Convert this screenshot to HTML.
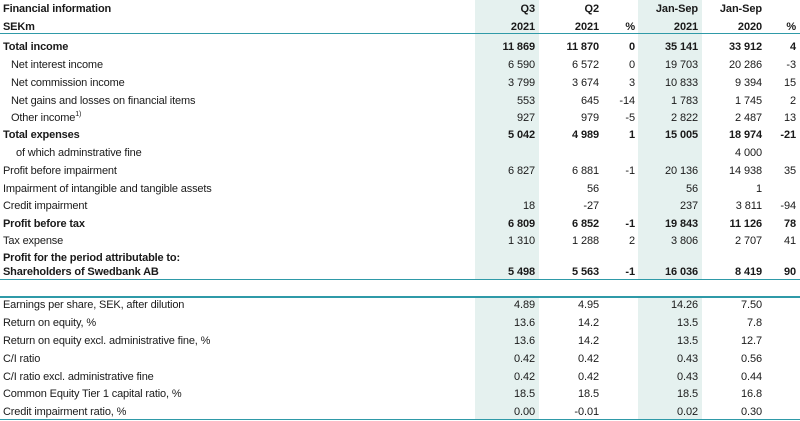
<!DOCTYPE html>
<html><head><meta charset="utf-8"><style>
body{margin:0;width:800px;height:421px;background:#fff;position:relative;overflow:hidden;font-family:"Liberation Sans",Arial,sans-serif;font-size:11px;color:#1a1a1a}
.sh{position:absolute;background:#e5f1ef}
.ln{position:absolute;left:0;width:800px;background:#2f9aa8}
.t{position:absolute;white-space:nowrap;line-height:12px;letter-spacing:-0.15px}
.r{position:absolute;white-space:nowrap;line-height:12px;text-align:right;width:80px;letter-spacing:-0.1px}
.b{font-weight:bold}
sup{font-size:7px;line-height:0;position:relative;top:3px;vertical-align:top}
</style></head><body>
<div class="sh" style="left:475px;top:0;width:64px;height:280px"></div>
<div class="sh" style="left:638px;top:0;width:64px;height:280px"></div>
<div class="sh" style="left:475px;top:298px;width:64px;height:122px"></div>
<div class="sh" style="left:638px;top:298px;width:64px;height:122px"></div>
<div class="ln" style="top:33px;height:1px"></div>
<div class="ln" style="top:279px;height:1px"></div>
<div class="ln" style="top:296px;height:2px"></div>
<div class="ln" style="top:419px;height:1px"></div>
<div id="c"></div>
<script>
var rows=[
[3,"Financial information",1,0,["Q3","Q2","","Jan-Sep","Jan-Sep",""],1],
[21,"SEKm",1,0,["2021","2021","%","2021","2020","%"],1],
[41,"Total income",1,0,["11 869","11 870","0","35 141","33 912","4"],1],
[59,"Net interest income",0,11,["6 590","6 572","0","19 703","20 286","-3"],0],
[77,"Net commission income",0,11,["3 799","3 674","3","10 833","9 394","15"],0],
[95,"Net gains and losses on financial items",0,11,["553","645","-14","1 783","1 745","2"],0],
[112,"Other income<sup>1)</sup>",0,11,["927","979","-5","2 822","2 487","13"],0],
[129,"Total expenses",1,0,["5 042","4 989","1","15 005","18 974","-21"],1],
[147,"of which adminstrative fine",0,16,["","","","","4 000",""],0],
[165,"Profit before impairment",0,3,["6 827","6 881","-1","20 136","14 938","35"],0],
[183,"Impairment of intangible and tangible assets",0,3,["","56","","56","1",""],0],
[200,"Credit impairment",0,3,["18","-27","","237","3 811","-94"],0],
[218,"Profit before tax",1,3,["6 809","6 852","-1","19 843","11 126","78"],1],
[235,"Tax expense",0,3,["1 310","1 288","2","3 806","2 707","41"],0],
[252,"Profit for the period attributable to:",1,3,["","","","","",""],1],
[266,"Shareholders of Swedbank AB",1,3,["5 498","5 563","-1","16 036","8 419","90"],1],
[299,"Earnings per share, SEK, after dilution",0,3,["4.89","4.95","","14.26","7.50",""],0],
[317,"Return on equity, %",0,3,["13.6","14.2","","13.5","7.8",""],0],
[335,"Return on equity excl. administrative fine, %",0,3,["13.6","14.2","","13.5","12.7",""],0],
[353,"C/I ratio",0,3,["0.42","0.42","","0.43","0.56",""],0],
[371,"C/I ratio excl. administrative fine",0,3,["0.42","0.42","","0.43","0.44",""],0],
[388,"Common Equity Tier 1 capital ratio, %",0,3,["18.5","18.5","","18.5","16.8",""],0],
[406,"Credit impairment ratio, %",0,3,["0.00","-0.01","","0.02","0.30",""],0]];
var rx=[535,599,635,698,762,796],h="";
rows.forEach(function(r,i){
var x=r[3]||3;if(i<2)x=3;
h+='<div class="t'+(r[2]?' b':'')+'" style="left:'+x+'px;top:'+r[0]+'px">'+r[1]+'</div>';
r[4].forEach(function(v,j){if(v)h+='<div class="r'+(r[5]?' b':'')+'" style="left:'+(rx[j]-80)+'px;top:'+r[0]+'px">'+v+'</div>';});
});
document.getElementById('c').innerHTML=h;
</script>
</body></html>
